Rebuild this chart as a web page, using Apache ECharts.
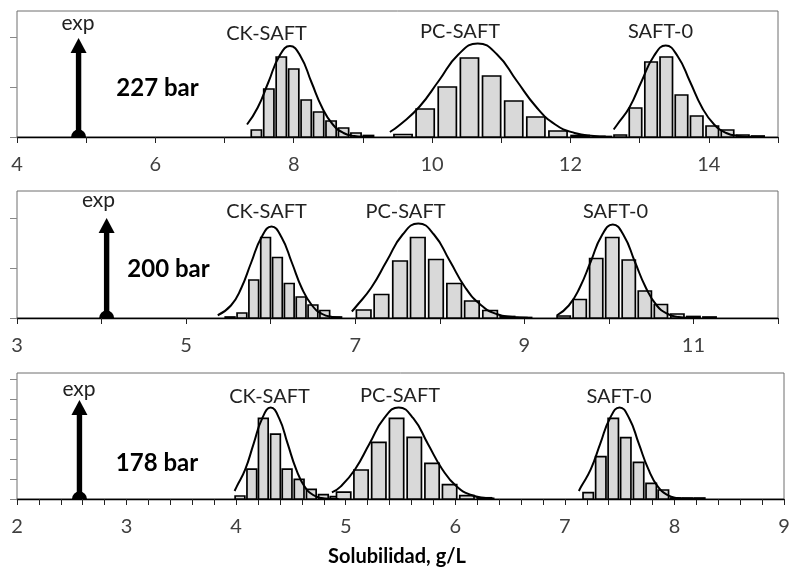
<!DOCTYPE html>
<html><head><meta charset="utf-8">
<script src="https://cdn.jsdelivr.net/npm/echarts@6/dist/echarts.min.js"></script>
<style>html,body{margin:0;padding:0;background:#fff}#c{width:795px;height:572px}</style>
</head><body><div id="c"></div>
<script>
// ---------- DATA ----------
const models = ['CK-SAFT', 'PC-SAFT', 'SAFT-0'];
const pressures = ['227 bar', '200 bar', '178 bar'];
const expLabel = 'exp';
const axisTitle = 'Solubilidad, g/L';

// tick labels
const xLabA = [4, 6, 8, 10, 12, 14];
const xLabB = [3, 5, 7, 9, 11];
const xLabC = [2, 3, 4, 5, 6, 7, 8, 9];
const yTickA = [0, 1, 2];
const yTickB = [0, 1, 2];
const yTickC = [0, 1, 2, 3, 4, 5, 6];

// experimental values (arrow position and arrow height)
const expX = [4.89, 4.06, 2.57];
const expTop = [1.98, 2.0, 4.95];

// 227 bar histograms
const ckA_x = [7.46, 7.64, 7.82, 8.00, 8.18, 8.36, 8.54, 8.72, 8.90, 9.08];
const ckA_y = [0.14, 0.96, 1.60, 1.36, 0.74, 0.50, 0.32, 0.18, 0.08, 0.03];
const pcA_x = [9.58, 9.90, 10.22, 10.54, 10.86, 11.18, 11.50, 11.82, 12.14, 12.46];
const pcA_y = [0.05, 0.56, 1.00, 1.58, 1.22, 0.72, 0.40, 0.12, 0.03, 0.01];
const s0A_x = [12.72, 12.94, 13.165, 13.385, 13.605, 13.825, 14.05, 14.27, 14.49, 14.71];
const s0A_y = [0.04, 0.58, 1.50, 1.60, 0.84, 0.42, 0.22, 0.14, 0.04, 0.02];
// 227 bar fitted curves
const ckA_fit = [[7.325,0.25],[7.48,0.59],[7.635,1.10],[7.79,1.61],[7.945,1.82],[8.10,1.61],[8.255,1.10],[8.41,0.59],[8.565,0.25],[8.72,0.08],[8.875,0.02],[9.03,0.004],[9.10,0.002]];
const pcA_fit = [[9.39,0.10],[9.54,0.25],[9.82,0.61],[10.10,1.13],[10.38,1.65],[10.66,1.87],[10.94,1.65],[11.22,1.13],[11.50,0.61],[11.78,0.25],[12.06,0.08],[12.34,0.02],[12.51,0.008]];
const s0A_fit = [[12.625,0.15],[12.677,0.25],[12.852,0.59],[13.027,1.11],[13.202,1.61],[13.377,1.83],[13.552,1.61],[13.727,1.11],[13.902,0.59],[14.077,0.25],[14.252,0.08],[14.427,0.02],[14.60,0.004],[14.71,0.001]];

// 200 bar histograms
const ckB_x = [5.52, 5.66, 5.80, 5.94, 6.08, 6.22, 6.36, 6.50, 6.64, 6.78];
const ckB_y = [0.02, 0.10, 0.76, 1.61, 1.21, 0.69, 0.42, 0.26, 0.15, 0.02];
const pcB_x = [7.10, 7.31, 7.53, 7.74, 7.955, 8.17, 8.38, 8.595, 8.80, 9.00];
const pcB_y = [0.16, 0.47, 1.14, 1.61, 1.17, 0.69, 0.34, 0.15, 0.03, 0.01];
const s0B_x = [9.465, 9.655, 9.85, 10.04, 10.235, 10.425, 10.615, 10.81, 11.00, 11.19];
const s0B_y = [0.04, 0.37, 1.19, 1.61, 1.16, 0.54, 0.27, 0.08, 0.03, 0.02];
// 200 bar fitted curves
const ckB_fit = [[5.374,0.055],[5.53,0.25],[5.65,0.59],[5.77,1.11],[5.89,1.61],[6.01,1.83],[6.13,1.61],[6.25,1.11],[6.37,0.59],[6.49,0.25],[6.61,0.08],[6.73,0.02],[6.826,0.006]];
const pcB_fit = [[6.96,0.13],[7.006,0.22],[7.191,0.61],[7.376,1.15],[7.561,1.67],[7.746,1.89],[7.931,1.67],[8.116,1.15],[8.301,0.61],[8.486,0.26],[8.671,0.08],[8.856,0.02],[9.041,0.004]];
const s0B_fit = [[9.383,0.05],[9.526,0.25],[9.656,0.61],[9.786,1.13],[9.916,1.65],[10.046,1.87],[10.176,1.65],[10.306,1.13],[10.436,0.61],[10.566,0.25],[10.696,0.08],[10.826,0.02],[10.956,0.004],[11.086,0.001]];

// 178 bar histograms
const ckC_x = [4.035, 4.143, 4.248, 4.359, 4.465, 4.575, 4.686, 4.796, 4.903];
const ckC_y = [0.15, 1.49, 4.03, 3.24, 1.49, 0.98, 0.48, 0.22, 0.12];
const pcC_x = [4.981, 5.14, 5.302, 5.464, 5.626, 5.788, 5.948, 6.106, 6.266];
const pcC_y = [0.34, 1.45, 2.83, 4.03, 3.08, 1.78, 0.72, 0.17, 0.06];
const s0C_x = [7.213, 7.328, 7.442, 7.556, 7.673, 7.788, 7.899, 8.01, 8.12, 8.23];
const s0C_y = [0.32, 2.12, 4.03, 3.07, 1.83, 0.78, 0.45, 0.05, 0.05, 0.05];
// 178 bar fitted curves
const ckC_fit = [[3.986,0.40],[4.005,0.62],[4.083,1.48],[4.16,2.77],[4.238,4.03],[4.315,4.57],[4.393,4.03],[4.47,2.77],[4.548,1.48],[4.625,0.62],[4.703,0.20],[4.78,0.05],[4.858,0.01],[4.935,0.002]];
const pcC_fit = [[4.874,0.33],[4.953,0.62],[5.086,1.49],[5.218,2.78],[5.351,4.04],[5.483,4.58],[5.616,4.04],[5.748,2.78],[5.881,1.49],[6.013,0.62],[6.146,0.20],[6.278,0.05],[6.358,0.02]];
const s0C_fit = [[7.128,0.40],[7.149,0.62],[7.237,1.49],[7.324,2.78],[7.412,4.04],[7.499,4.58],[7.587,4.04],[7.674,2.78],[7.762,1.49],[7.849,0.62],[7.937,0.20],[8.024,0.05],[8.112,0.01],[8.199,0.002]];

// ---------- CHART ----------
const FONT = 'Lato, "Open Sans", sans-serif';
const panels = [
  {grid:{left:17, width:761, top:11, height:126}, min:4, max:15, labels:xLabA, yMax:2.52, yTicks:yTickA, minor:false,
   hists:[[ckA_x,ckA_y],[pcA_x,pcA_y],[s0A_x,s0A_y]], fits:[ckA_fit,pcA_fit,s0A_fit]},
  {grid:{left:17, width:761, top:191, height:127}, min:3, max:12, labels:xLabB, yMax:2.54, yTicks:yTickB, minor:false,
   hists:[[ckB_x,ckB_y],[pcB_x,pcB_y],[s0B_x,s0B_y]], fits:[ckB_fit,pcB_fit,s0B_fit]},
  {grid:{left:17, width:767, top:373, height:126}, min:2, max:9, labels:xLabC, yMax:6.3, yTicks:yTickC, minor:true,
   hists:[[ckC_x,ckC_y],[pcC_x,pcC_y],[s0C_x,s0C_y]], fits:[ckC_fit,pcC_fit,s0C_fit]}
];

function barsRender(xs) {
  const step = xs[1] - xs[0];
  return function (params, api) {
    const x = api.value(0), y = api.value(1);
    const p0 = api.coord([x - step * 0.41, y]);
    const p1 = api.coord([x + step * 0.41, 0]);
    return {type:'rect', shape:{x:p0[0], y:p0[1], width:p1[0]-p0[0], height:p1[1]-p0[1]},
      style:{fill:'#d9d9d9', stroke:'#000', lineWidth:1.7}};
  };
}
function arrowRender(params, api) {
  const x = api.value(0), top = api.value(1);
  const b = api.coord([x, 0]), t = api.coord([x, top]);
  const hw = 8, hh = 15;
  return {type:'group', children:[
    {type:'rect', shape:{x:b[0]-2.7, y:t[1]+hh-1, width:5.4, height:b[1]-t[1]-hh+1}, style:{fill:'#000'}},
    {type:'polygon', shape:{points:[[t[0],t[1]],[t[0]-hw,t[1]+hh],[t[0]+hw,t[1]+hh]]}, style:{fill:'#000'}},
    {type:'sector', shape:{cx:b[0], cy:b[1], r:7.5, r0:0, startAngle:Math.PI, endAngle:2*Math.PI}, style:{fill:'#000'}}
  ]};
}

const grids = [], xAxes = [], yAxes = [], series = [];
panels.forEach((p, i) => {
  grids.push(Object.assign({show:true, borderColor:'#6f6f6f', borderWidth:1, containLabel:false}, p.grid));
  xAxes.push({type:'value', gridIndex:i, min:p.min, max:p.max, interval:1,
    axisLine:{show:true, onZero:false, lineStyle:{color:'#000', width:1.4}},
    axisTick:{show:true, length:6, lineStyle:{color:'#222'}},
    minorTick:{show:p.minor, splitNumber:5, length:6, lineStyle:{color:'#222'}},
    axisLabel:{customValues:p.labels, margin:18, fontSize:20, color:'#404040', fontFamily:FONT},
    splitLine:{show:false}, minorSplitLine:{show:false}});
  yAxes.push({type:'value', gridIndex:i, min:0, max:p.yMax,
    axisLine:{show:false},
    axisTick:{show:true, customValues:p.yTicks, length:7, lineStyle:{color:'#888'}},
    axisLabel:{show:false}, splitLine:{show:false}});
  p.hists.forEach(h => {
    series.push({type:'custom', xAxisIndex:i, yAxisIndex:i, renderItem:barsRender(h[0]),
      encode:{x:0, y:1}, data:h[0].map((x, k) => [x, h[1][k]]), z:2});
  });
  p.fits.forEach(f => {
    series.push({type:'line', xAxisIndex:i, yAxisIndex:i, data:f, smooth:0.5, showSymbol:false,
      symbol:'none', lineStyle:{color:'#000', width:2}, z:3});
  });
  series.push({type:'custom', xAxisIndex:i, yAxisIndex:i, renderItem:arrowRender,
    encode:{x:0, y:1}, data:[[expX[i], expTop[i]]], z:4});
});

function txt(text, x, y, size, bold, color) {
  return {type:'text', x:x, y:y, z:10, style:{text:text, align:'center', verticalAlign:'middle',
    fontSize:size, fontWeight:bold ? 'bold' : 'normal', fontFamily:FONT, fill:color}};
}
const graphic = [
  txt(expLabel, 78, 23.5, 21, false, '#222'),
  txt(pressures[0], 157.5, 88, 24, true, '#000'),
  txt(models[0], 266.5, 33.5, 20, false, '#222'),
  txt(models[1], 460, 32, 20, false, '#222'),
  txt(models[2], 660.5, 32, 20, false, '#222'),
  txt(expLabel, 98.5, 200.5, 21, false, '#222'),
  txt(pressures[1], 168.5, 269.5, 24, true, '#000'),
  txt(models[0], 266.5, 212, 20, false, '#222'),
  txt(models[1], 405.5, 212, 20, false, '#222'),
  txt(models[2], 615.5, 212, 20, false, '#222'),
  txt(expLabel, 79, 389.5, 21, false, '#222'),
  txt(pressures[2], 157, 463, 24, true, '#000'),
  txt(models[0], 269.5, 396.5, 20, false, '#222'),
  txt(models[1], 400, 396, 20, false, '#222'),
  txt(models[2], 619, 396.5, 20, false, '#222'),
  txt(axisTitle, 397, 557, 20, true, '#000')
];

const chart = echarts.init(document.getElementById('c'));
chart.setOption({animation:false, backgroundColor:'#fff', textStyle:{fontFamily:FONT},
  grid:grids, xAxis:xAxes, yAxis:yAxes, series:series, graphic:graphic});
</script></body></html>
